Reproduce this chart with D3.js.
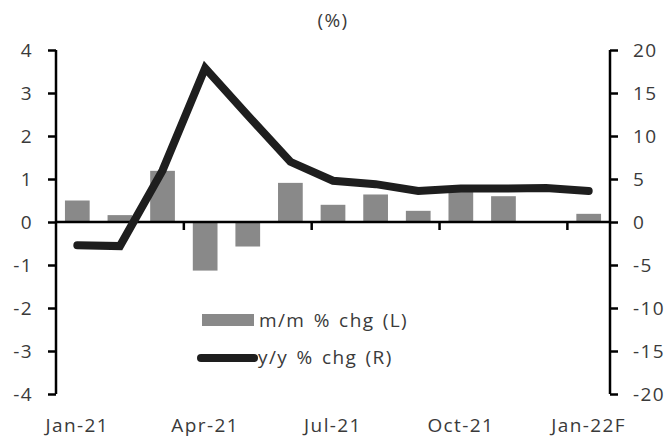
<!DOCTYPE html>
<html><head><meta charset="utf-8">
<script src="https://cdn.jsdelivr.net/npm/d3@7"></script>
<style>
body{margin:0;background:#fff;}
text{font-family:"Open Sans",sans-serif;fill:#3a3a3a;}
</style></head>
<body><svg id="c" width="670" height="437"></svg>
<script>
const categories = ["Jan-21","Feb-21","Mar-21","Apr-21","May-21","Jun-21","Jul-21","Aug-21","Sep-21","Oct-21","Nov-21","Dec-21","Jan-22F"];
const mmValues = [0.50,0.16,1.19,-1.13,-0.57,0.91,0.40,0.64,0.26,0.75,0.60,0.01,0.19];
const yyValues = [-2.7,-2.8,6.0,17.9,12.4,7.0,4.8,4.4,3.6,3.9,3.9,3.95,3.6];
const leftTicks = [-4,-3,-2,-1,0,1,2,3,4];
const rightTicks = [-20,-15,-10,-5,0,5,10,15,20];
const xLabelIdx = [0,3,6,9,12];
const legendLabels = ["m/m % chg (L)","y/y % chg (R)"];

const FS = 19, LS = "1.4px", WS = "2px";
const svg = d3.select("#c");
const L = 56, R = 610, T = 50, B = 394;
const x = d3.scaleBand().domain(categories).range([L,R]).paddingInner(0.42).paddingOuter(0.21);
const xb = d3.scaleBand().domain(categories).range([L,R]);
const yL = d3.scaleLinear().domain([-4,4]).range([B,T]);
const yR = d3.scaleLinear().domain([-20,20]).range([B,T]);

svg.append("g").selectAll("rect").data(mmValues).join("rect")
  .attr("x",(d,i)=>x(categories[i])).attr("width",x.bandwidth())
  .attr("y",d=>yL(Math.max(0,d))).attr("height",d=>Math.abs(yL(d)-yL(0)))
  .attr("fill","#898989");

const zx = yL(0);
svg.append("line").attr("x1",L).attr("x2",R).attr("y1",zx).attr("y2",zx).attr("stroke","#000").attr("stroke-width",2.5);
const bounds = d3.range(3,13,3).map(i=>xb(categories[i]));
svg.append("g").selectAll("line").data(bounds).join("line")
  .attr("x1",d=>d).attr("x2",d=>d).attr("y1",zx).attr("y2",zx+8).attr("stroke","#000").attr("stroke-width",2.5);
svg.append("g").selectAll("text").data(xLabelIdx).join("text")
  .attr("x",i=>xb(categories[i])+xb.bandwidth()/2).attr("y",432)
  .attr("text-anchor","middle").attr("font-size",FS).style("letter-spacing",LS)
  .text(i=>categories[i]);

const fmt = d => String(d);
const gl = svg.append("g").attr("transform",`translate(${L},0)`)
  .call(d3.axisLeft(yL).tickValues(leftTicks).tickSize(8).tickPadding(15).tickFormat(fmt));
const gr = svg.append("g").attr("transform",`translate(${R},0)`)
  .call(d3.axisRight(yR).tickValues(rightTicks).tickSize(8).tickPadding(15).tickFormat(fmt));
[gl,gr].forEach(g=>{
  g.select(".domain").attr("stroke","#000").attr("stroke-width",2.5).attr("d",`M0,${T}V${B}`);
  g.selectAll(".tick line").attr("stroke","#000").attr("stroke-width",2.5);
  g.selectAll(".tick text").attr("font-size",FS).attr("fill","#3a3a3a").style("font-family","'Open Sans',sans-serif").style("letter-spacing",LS);
});

const line = d3.line().x((d,i)=>xb(categories[i])+xb.bandwidth()/2).y(d=>yR(d));
svg.append("path").datum(yyValues).attr("d",line).attr("fill","none")
  .attr("stroke","#1e1e1e").attr("stroke-width",8).attr("stroke-linecap","round").attr("stroke-linejoin","miter");

svg.append("text").attr("x",333).attr("y",27).attr("text-anchor","middle").attr("font-size",FS).style("letter-spacing",LS).text("(%)");

svg.append("rect").attr("x",202).attr("y",314).attr("width",52).attr("height",12).attr("fill","#898989");
svg.append("text").attr("x",259).attr("y",327).attr("font-size",FS).style("letter-spacing",LS).style("word-spacing",WS).text(legendLabels[0]);
svg.append("line").attr("x1",201).attr("x2",254).attr("y1",358).attr("y2",358).attr("stroke","#1e1e1e").attr("stroke-width",8).attr("stroke-linecap","round");
svg.append("text").attr("x",258).attr("y",364).attr("font-size",FS).style("letter-spacing",LS).style("word-spacing",WS).text(legendLabels[1]);
</script></body></html>
